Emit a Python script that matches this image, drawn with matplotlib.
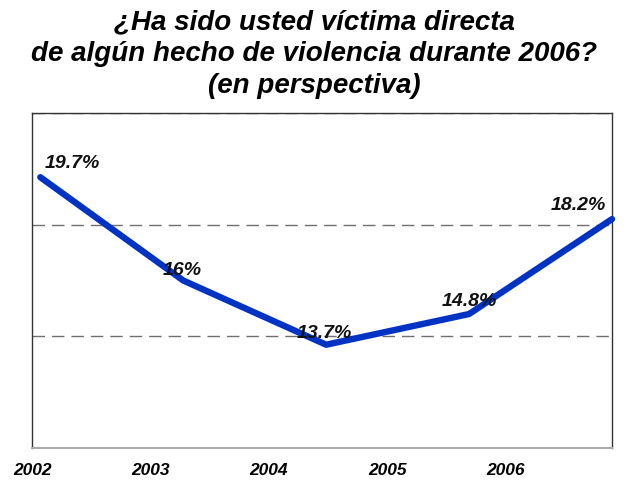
import matplotlib
matplotlib.use('Agg')
import matplotlib.pyplot as plt

# Datos
years = [2002, 2003, 2004, 2005, 2006]
values = [19.7, 16.0, 13.7, 14.8, 18.2]
value_labels = ['19.7%', '16%', '13.7%', '14.8%', '18.2%']
year_labels = ['2002', '2003', '2004', '2005', '2006']

plt.rcParams['font.family'] = ['Liberation Sans', 'DejaVu Sans']

fig = plt.figure(figsize=(6.28, 4.81), dpi=100)
ax = fig.add_axes([0.051, 0.0665, 0.9235, 0.6965])
ax.set_xlim(2002, 2006)
ax.set_ylim(10, 22)

# lineas de guia discontinuas
for y in [10, 14, 18, 22]:
    ax.axhline(y, color='#707070', lw=1.0, dashes=(9, 5), zorder=2)

ax.plot(years, values, color='#0033C4', lw=4.6, solid_capstyle='round',
        solid_joinstyle='round', zorder=3, clip_on=False)

# etiquetas de valores
offsets = [(3, 4.5), (-15, 1.5), (-21.5, 2.5), (-20, 3.5), (-44, 4.5)]
for x, y, lab, (dx, dy) in zip(years, values, value_labels, offsets):
    ax.annotate(lab, (x, y), xytext=(dx, dy), textcoords='offset points',
                fontsize=14, fontweight='bold', fontstyle='italic',
                ha='left', va='bottom', color='#111111', zorder=4)

for s in ['left', 'right', 'top']:
    ax.spines[s].set_color('#333333')
    ax.spines[s].set_linewidth(1.0)
ax.spines['bottom'].set_color('#aaaaaa')
ax.spines['bottom'].set_linewidth(1.5)

# etiquetas del eje x (desplazadas como en el original)
tick_pos = [2002 - 0.058 + i * 0.828 for i in range(len(year_labels))]
ax.set_xticks(tick_pos)
ax.set_xticklabels(year_labels, fontsize=12.5, fontweight='bold', fontstyle='italic')
ax.tick_params(axis='x', length=0, pad=10)
ax.set_yticks([])

fig.text(0.5, 0.98, '¿Ha sido usted víctima directa\nde algún hecho de violencia durante 2006?\n(en perspectiva)',
         ha='center', va='top', fontsize=20, fontweight='bold', fontstyle='italic',
         linespacing=1.28)

fig.savefig('out.png', dpi=100)
